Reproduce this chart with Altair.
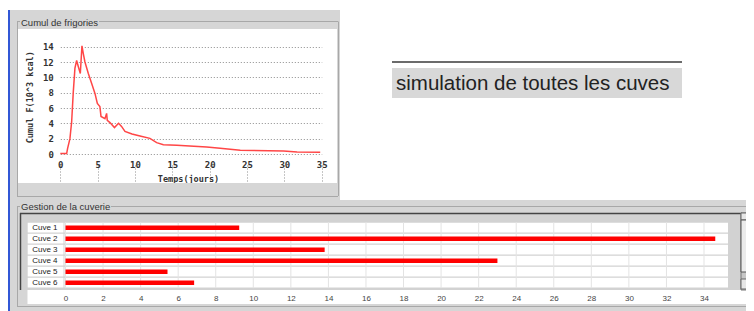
import altair as alt
import pandas as pd

# ---------------- data ----------------
DAYS = [0, 0.85, 0.98, 1.29, 1.52, 1.74, 1.96, 2.19, 2.35, 2.68, 2.9, 3.08, 3.3, 3.75,
        4.2, 4.64, 4.96, 5.3, 5.45, 5.98, 6.2, 6.29, 6.65, 7.25, 7.8, 8.2, 8.66, 9.6,
        10.67, 12.0, 12.9, 13.8, 15.6, 19.6, 21.4, 24.1, 29.9, 31.7, 34.8]
COLD = [0.05, 0.05, 0.74, 2.0, 4.2, 8.1, 11.2, 12.2, 11.6, 10.5, 14.1, 13.1, 12.0, 10.5,
        9.2, 7.9, 6.6, 6.2, 4.9, 4.6, 5.3, 4.4, 4.1, 3.45, 4.0, 3.6, 2.95, 2.6,
        2.35, 2.04, 1.48, 1.22, 1.13, 0.91, 0.74, 0.5, 0.39, 0.26, 0.22]

CUVES = ["Cuve 1", "Cuve 2", "Cuve 3", "Cuve 4", "Cuve 5", "Cuve 6"]
CUVE_VALUES = [9.25, 34.6, 13.8, 23.0, 5.43, 6.85]

X_TICKS_LINE = [0, 5, 10, 15, 20, 25, 30, 35]
Y_TICKS_LINE = [0, 2, 4, 6, 8, 10, 12, 14]
X_TICKS_BAR = list(range(0, 35, 2))

TITLE_TOP = "Cumul de frigories"
TITLE_BOTTOM = "Gestion de la cuverie"
X_TITLE = "Temps(jours)"
Y_TITLE = "Cumul F(10^3 kcal)"
CAPTION = "simulation de toutes les cuves"

df_line = pd.DataFrame({"day": DAYS, "cold": COLD})
df_bar = pd.DataFrame({"cuve": CUVES, "value": CUVE_VALUES})
df_ticks = pd.DataFrame({"tick": X_TICKS_BAR})

# ---------------- layout helpers (page px -> canvas px) ----------------
W, H = 738, 303
O = 8
GRAY = "#d6d6d6"
MONO = "DejaVu Sans Mono"
SANS = "Liberation Sans"


def rect(x1, y1, x2, y2, fill, stroke=None, sw=1):
    kw = dict(fill=fill)
    if stroke:
        kw.update(stroke=stroke, strokeWidth=sw)
    else:
        kw.update(strokeWidth=0)
    return alt.Chart().mark_rect(**kw).encode(
        x=alt.value(x1 - O), x2=alt.value(x2 - O), y=alt.value(y1 - O), y2=alt.value(y2 - O))


def hline(x1, x2, y, color, sw=1):
    return alt.Chart().mark_rule(color=color, strokeWidth=sw).encode(
        x=alt.value(x1 - O), x2=alt.value(x2 - O), y=alt.value(y - O))


def vline(x, y1, y2, color, sw=1):
    return alt.Chart().mark_rule(color=color, strokeWidth=sw).encode(
        x=alt.value(x - O), y=alt.value(y1 - O), y2=alt.value(y2 - O))


def text(s, x, y, size, font=SANS, color="#333333", weight="normal"):
    return alt.Chart(pd.DataFrame({"t": [s]})).mark_text(
        align="left", baseline="middle", font=font, fontSize=size,
        color=color, fontWeight=weight).encode(
        x=alt.value(x - O), y=alt.value(y - O), text="t:N")


ETCH = "#a8a8a8"
decor = [
    # top panel frame (inner white = page background)
    rect(10, 10, 340, 29, GRAY),
    rect(10, 183, 340, 205, GRAY),
    rect(10, 29, 18, 183, GRAY),
    rect(337, 29, 340, 183, GRAY),
    # bottom panel
    rect(10, 200, 754, 311, GRAY),
    # blue window edge
    rect(7, 10, 10, 311, "#3157d6"),
    # etched titled borders
    hline(17, 20, 21.5, ETCH), hline(99, 338, 21.5, ETCH),
    vline(17.5, 21.5, 196, ETCH), hline(17, 338, 196.5, ETCH), vline(338.5, 21.5, 196, ETCH),
    hline(17, 20, 206.5, ETCH), hline(111, 748, 206.5, ETCH),
    vline(17.5, 206.5, 306, ETCH), hline(17, 748, 306.5, ETCH),
    # scroll pane
    rect(20, 213, 742, 290, "#d2d2d2"),
    hline(20, 742, 213.5, "#444444", 1.5),
    vline(20.5, 213, 290, "#444444", 1.5),
    rect(27.5, 290, 753, 304, "white"),
    # scrollbar
    rect(741, 213, 751, 290, "#c6c6c6", "#777777"),
    rect(741, 213, 751, 220, "#e6e6e6", "#666666"),
    rect(741, 220, 751, 272, "#ebebeb", "#555555"),
    rect(741, 279, 751, 289, "#e6e6e6", "#666666"),
    # caption box
    hline(392, 682, 62, "#3a3a3a", 1.5),
    rect(392, 68, 682, 98, "#d8d8d8"),
]

texts = [
    text(TITLE_TOP, 21, 22.5, 9.5),
    text(TITLE_BOTTOM, 21, 206.5, 9.5),
    text(CAPTION, 396, 84, 20.5, color="#222222"),
]

# ---------------- line chart ----------------
xs_line = alt.Scale(domain=[0, 35], range=[60.3 - O, 321.7 - O], nice=False, zero=False)
ys_line = alt.Scale(domain=[0, 15], range=[154 - O, 39 - O], nice=False, zero=False)

line = alt.Chart(df_line).mark_line(color="#ff4646", strokeWidth=1.5).encode(
    x=alt.X("day:Q", scale=xs_line, axis=alt.Axis(
        orient="bottom", offset=(154 - O) - H, values=X_TICKS_LINE, title=X_TITLE,
        grid=True, gridDash=[1, 2], gridColor="#8c8c8c", gridWidth=1,
        domain=False, ticks=False, tickSize=0, labelPadding=10, labelBaseline="middle",
        labelFont=MONO, labelFontWeight="bold", labelFontSize=9, labelColor="#333333",
        labelFlush=False, titleFont=MONO, titleFontWeight="bold", titleFontSize=8.5,
        titleColor="#333333", titleX=188 - O, titleY=178 - 154, titleBaseline="middle")),
    y=alt.Y("cold:Q", scale=ys_line, axis=alt.Axis(
        orient="left", offset=-(60.3 - O), values=Y_TICKS_LINE, title=Y_TITLE,
        grid=True, gridDash=[1, 2], gridColor="#8c8c8c", gridWidth=1,
        domain=False, ticks=False, tickSize=0, labelPadding=7,
        labelFont=MONO, labelFontWeight="bold", labelFontSize=9, labelColor="#333333",
        labelFlush=False, titleFont=MONO, titleFontWeight="bold", titleFontSize=8.5,
        titleColor="#333333", titleX=(29 - O) - (60.3 - O), titleY=96.7 - O,
        titleBaseline="middle")),
)

# ---------------- bar chart (identical scales in each layer) ----------------
def xb():
    return alt.Scale(domain=[0, 34], range=[65.5 - O, 704 - O], nice=False, zero=False)


y0 = 222.7 - O - 0.55


def yb():
    return alt.Scale(domain=CUVES, range=[y0, y0 + 66], paddingInner=0.1, paddingOuter=0.05)


rows_lab = alt.Chart(df_bar).mark_rect(color="white").encode(
    y=alt.Y("cuve:N", scale=yb(), axis=None),
    x=alt.value(27.7 - O), x2=alt.value(63.5 - O))
rows_bar = alt.Chart(df_bar).mark_rect(color="white").encode(
    y=alt.Y("cuve:N", scale=yb(), axis=None),
    x=alt.value(64.5 - O), x2=alt.value(728 - O))
grid_bar = alt.Chart(df_ticks).mark_rule(color="#e3e3e3", strokeWidth=1).encode(
    x=alt.X("tick:Q", scale=xb(), axis=None),
    y=alt.value(y0), y2=alt.value(y0 + 66))
bars = alt.Chart(df_bar).mark_bar(color="#ff0000", size=4.5).encode(
    x=alt.X("value:Q", scale=xb(), axis=alt.Axis(
        orient="bottom", offset=(290 - O) - H, values=X_TICKS_BAR, title=None,
        grid=False, domain=False, ticks=False, tickSize=0, labelPadding=8,
        labelBaseline="middle", labelFont=SANS, labelFontSize=8, labelColor="#444444",
        labelFlush=False, zindex=2)),
    y=alt.Y("cuve:N", scale=yb(), axis=alt.Axis(
        orient="left", offset=-(64 - O), title=None, grid=False, domain=False,
        ticks=False, tickSize=0, labelAlign="left", labelPadding=(64 - O) - (31.7 - O),
        labelFont=SANS, labelFontSize=8, labelColor="#222222", zindex=2)),
)

chart = alt.layer(*decor, line, rows_lab, rows_bar, grid_bar, bars, *texts).resolve_scale(
    x="independent", y="independent").resolve_axis(
    x="independent", y="independent").properties(
    width=W, height=H, padding=0, autosize=alt.AutoSizeParams(type="none"),
    background="white").configure_view(stroke=None)

chart.save("out.html", embed_options={"renderer": "svg", "actions": False})
